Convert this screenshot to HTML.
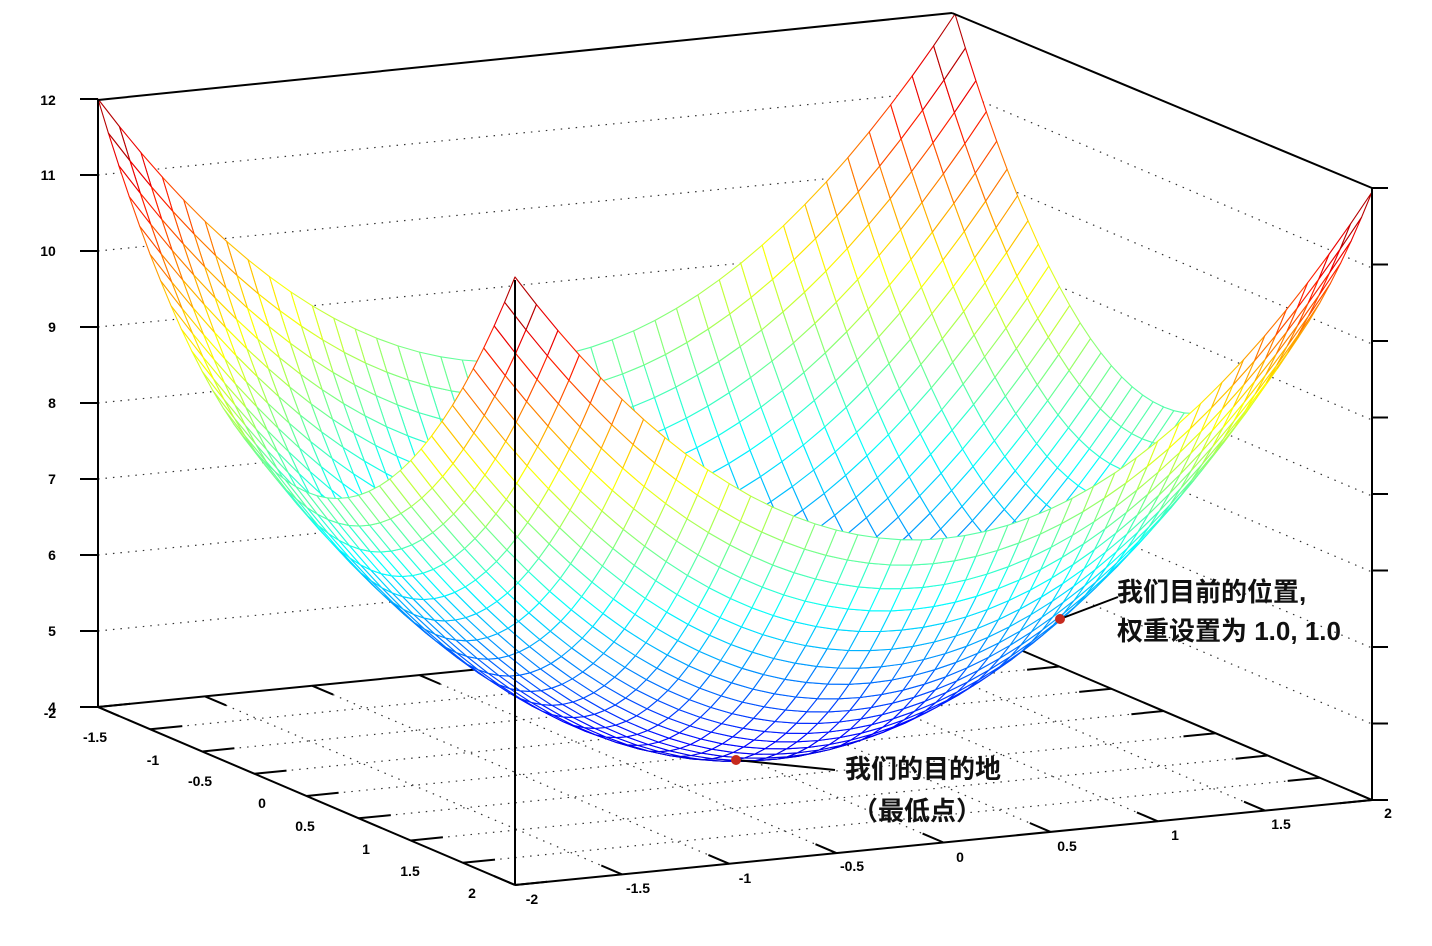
<!DOCTYPE html>
<html><head><meta charset="utf-8">
<style>
html,body{margin:0;padding:0;background:#fff;}
#wrap{position:relative;width:1432px;height:946px;overflow:hidden;}
svg{position:absolute;left:0;top:0;}
.t{font-family:"Liberation Sans",sans-serif;font-size:14px;font-weight:bold;fill:#000;}
.c{font-family:"Liberation Sans","Noto Sans CJK SC",sans-serif;font-size:26px;font-weight:bold;fill:#111;}
</style></head><body>
<div id="wrap">
<svg id="s" width="1432" height="946" viewBox="0 0 1432 946">
<g id="grid"></g>
<g stroke="#000" stroke-width="2" fill="none">
<line x1="98" y1="707" x2="955" y2="622"/>
<line x1="955" y1="622" x2="1372" y2="800"/>
</g>
<g id="mesh"></g>
<g id="fticks"></g>
<g id="box" stroke="#000" stroke-width="2" fill="none">
<line x1="98" y1="100" x2="952" y2="13"/>
<line x1="952" y1="13" x2="1372" y2="188"/>
<line x1="98" y1="100" x2="98" y2="707"/>
<line x1="1372" y1="188" x2="1372" y2="800"/>
<line x1="515" y1="280" x2="515" y2="885"/>
<line x1="98" y1="707" x2="515" y2="885"/>
<line x1="515" y1="885" x2="1372" y2="800"/>
</g>
<g class="t" text-anchor="middle">
<text x="48" y="105">12</text><text x="48" y="180">11</text><text x="48" y="256">10</text>
<text x="52" y="332">9</text><text x="52" y="408">8</text><text x="52" y="484">7</text>
<text x="52" y="560">6</text><text x="52" y="636">5</text><text x="52" y="712">4</text>
<text x="50" y="718">-2</text><text x="95" y="742">-1.5</text><text x="153" y="765">-1</text>
<text x="200" y="786">-0.5</text><text x="262" y="808">0</text><text x="305" y="831">0.5</text>
<text x="366" y="854">1</text><text x="410" y="876">1.5</text><text x="472" y="898">2</text>
<text x="532" y="904">-2</text><text x="638" y="893">-1.5</text><text x="745" y="883">-1</text>
<text x="852" y="871">-0.5</text><text x="960" y="862">0</text><text x="1067" y="851">0.5</text>
<text x="1175" y="840">1</text><text x="1281" y="829">1.5</text><text x="1388" y="818">2</text>
</g>
<g stroke="#000" stroke-width="2">
<line x1="736" y1="760" x2="835" y2="770"/>
<line x1="1060" y1="619" x2="1118" y2="597"/>
</g>
<circle cx="736" cy="760" r="5" fill="#c62a1e"/>
<circle cx="1060" cy="619" r="5" fill="#c62a1e"/>
<text class="c" x="845" y="778">我们的目的地</text>
<text class="c" x="852" y="820">（最低点）</text>
<text class="c" x="1117" y="601">我们目前的位置,</text>
<text class="c" x="1117" y="640">权重设置为 1.0, 1.0</text>
</svg>
</div>
<script>
(function(){
var NS="http://www.w3.org/2000/svg";
function P(x,y,z){return [98+(x+2)/4*857+(y+2)/4*417, 707-(x+2)/4*85+(y+2)/4*178-76*(z-4)];}
function cl(v){return Math.max(0,Math.min(1,v));}
function jet(z){var u=cl((z-4)/8);var t=0.08+0.92*Math.pow(u,1.2);
 var r=cl(1.5-Math.abs(4*t-3)),g=cl(1.5-Math.abs(4*t-2)),b=cl(1.5-Math.abs(4*t-1));
 return "rgb("+Math.round(r*255)+","+Math.round(g*255)+","+Math.round(b*255)+")";}
function L(g,a,b,st,w,dash){var l=document.createElementNS(NS,"line");
 l.setAttribute("x1",a[0].toFixed(1));l.setAttribute("y1",a[1].toFixed(1));
 l.setAttribute("x2",b[0].toFixed(1));l.setAttribute("y2",b[1].toFixed(1));
 l.setAttribute("stroke",st);l.setAttribute("stroke-width",w);
 if(dash)l.setAttribute("stroke-dasharray",dash);g.appendChild(l);}
var grid=document.getElementById("grid"),mesh=document.getElementById("mesh"),ft=document.getElementById("fticks");
for(var z=5;z<=11;z++){
 L(grid,P(-2,-2,z),P(2,-2,z),"#333",1.2,"1.5,6");
 L(grid,P(2,-2,z),P(2,2,z),"#333",1.2,"1.5,6");
}
for(var v=-1.5;v<=1.51;v+=0.5){
 L(grid,P(v,-2,4),P(v,2,4),"#333",1.2,"1.5,6");
 L(grid,P(-2,v,4),P(2,v,4),"#333",1.2,"1.5,6");
}
for(var v=-2;v<=2.01;v+=0.5){
 L(ft,P(v,2,4),P(v,1.8,4),"#000",2);
 L(grid,P(v,-2,4),P(v,-1.8,4),"#000",2);
 L(ft,P(-2,v,4),P(-1.85,v,4),"#000",2);
 L(grid,P(2,v,4),P(1.85,v,4),"#000",2);
}
for(var z=4;z<=12;z++){
 L(ft,[80,707-76*(z-4)],[98,707-76*(z-4)],"#000",2);
 var yy=800-76.5*(z-4);L(ft,[1372,yy],[1388,yy],"#000",2);
}
var N=40,h=4/N,quads=[];
function f(x,y){return x*x+y*y+4;}
for(var i=0;i<N;i++)for(var j=0;j<N;j++){
 var x0=-2+i*h,x1=x0+h,y0=-2+j*h,y1=y0+h;
 var pts=[[x0,y0],[x1,y0],[x1,y1],[x0,y1]];
 var cx=(x0+x1)/2,cy=(y0+y1)/2,cz=0,s="";
 for(var k=0;k<4;k++){var z=f(pts[k][0],pts[k][1]);cz+=z/4;var p=P(pts[k][0],pts[k][1],z);s+=p[0].toFixed(1)+","+p[1].toFixed(1)+" ";}
 quads.push({d:-7923*cx+16283*cy+11749*cz,s:s,c:jet(cz)});
}
quads.sort(function(a,b){return a.d-b.d;});
quads.forEach(function(q){var p=document.createElementNS(NS,"polygon");
 p.setAttribute("points",q.s);p.setAttribute("fill","#fff");p.setAttribute("stroke",q.c);
 p.setAttribute("stroke-width","1.1");p.setAttribute("stroke-linejoin","round");mesh.appendChild(p);});
})();
</script>
</body></html>
